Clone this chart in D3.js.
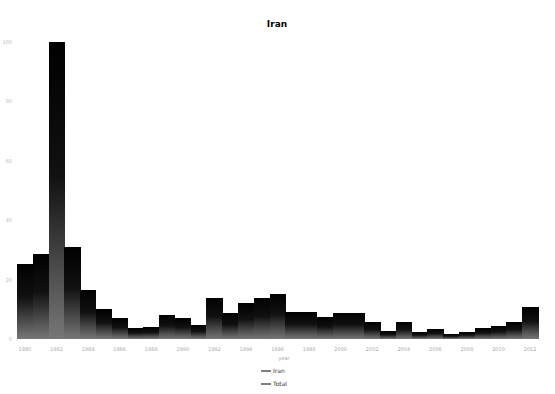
<!DOCTYPE html>
<html>
<head>
<meta charset="utf-8">
<script src="https://cdn.jsdelivr.net/npm/d3@7"></script>
<style>
  body { margin: 0; background: #fff; }
  text { font-family: "DejaVu Sans", sans-serif; }
</style>
</head>
<body>
<div id="chart"></div>
<script>
const ancho = 555
const alto = 394
const margen = { superior: 42, inferior: 55, izquierdo: 17, derecho: 17 }

// datos
const titulo = "Iran"
const years = [1980, 1981, 1982, 1983, 1984, 1985, 1986, 1987, 1988, 1989, 1990,
               1991, 1992, 1993, 1994, 1995, 1996, 1997, 1998, 1999, 2000, 2001,
               2002, 2003, 2004, 2005, 2006, 2007, 2008, 2009, 2010, 2011, 2012]
const valores = [25.3, 28.6, 100, 31.0, 16.5, 10.1, 7.1, 3.7, 4.0, 8.1, 7.1,
                 4.7, 13.8, 8.8, 12.1, 13.8, 15.2, 9.1, 9.1, 7.4, 8.8, 8.8,
                 5.7, 2.7, 5.7, 2.4, 3.4, 1.7, 2.4, 3.7, 4.4, 5.7, 10.8]
const yTicks = [0, 20, 40, 60, 80, 100]
const leyenda = ["Iran", "Total"]

const svg = d3.select("#chart").append("svg")
    .attr("width", ancho)
    .attr("height", alto)

// degradado negro -> gris abajo, como en la imagen
const grad = svg.append("defs").append("linearGradient")
    .attr("id", "barra").attr("x1", 0).attr("y1", 0).attr("x2", 0).attr("y2", 1)
grad.append("stop").attr("offset", "0%").attr("stop-color", "#000")
grad.append("stop").attr("offset", "45%").attr("stop-color", "#111")
grad.append("stop").attr("offset", "100%").attr("stop-color", "#777")

const x = d3.scaleBand()
    .domain(years)
    .range([margen.izquierdo, ancho - margen.derecho])
    .padding(0)
const y = d3.scaleLinear()
    .domain([0, 100])
    .range([alto - margen.inferior, margen.superior])

// titulo
svg.append("text")
    .attr("x", 277).attr("y", 27)
    .attr("text-anchor", "middle")
    .attr("font-size", 9).attr("font-weight", "bold")
    .text(titulo)

// eje y, muy tenue
svg.append("g").selectAll("text")
    .data(yTicks)
    .join("text")
    .attr("x", 12).attr("y", d => y(d) + 2)
    .attr("text-anchor", "end")
    .attr("font-size", 5).attr("fill", "#bbb")
    .text(d => d)

// barras
svg.append("g").selectAll("rect")
    .data(valores)
    .join("rect")
    .attr("x", (d, i) => x(years[i]))
    .attr("width", x.bandwidth() + 0.5)
    .attr("y", d => y(d))
    .attr("height", d => y(0) - y(d))
    .attr("fill", "url(#barra)")
    .attr("shape-rendering", "crispEdges")

// eje x
const ejeX = d3.axisBottom(x)
    .tickValues(years.filter((d, i) => i % 2 === 0))
    .tickSize(0)
    .tickPadding(8)
const gX = svg.append("g")
    .attr("transform", `translate(0,${y(0)})`)
    .call(ejeX)
gX.select(".domain").remove()
gX.selectAll("text").attr("font-size", 5).attr("fill", "#aaa")

svg.append("text")
    .attr("x", 284).attr("y", 360)
    .attr("text-anchor", "middle")
    .attr("font-size", 5).attr("fill", "#999")
    .text("year")

// leyenda
const gl = svg.append("g").attr("transform", "translate(261,371)")
leyenda.forEach((t, i) => {
    gl.append("line")
        .attr("x1", 0).attr("x2", 10)
        .attr("y1", i * 13).attr("y2", i * 13)
        .attr("stroke", "#000").attr("stroke-width", 1)
    gl.append("text")
        .attr("x", 12).attr("y", i * 13 + 2)
        .attr("font-size", 6).attr("fill", "#333")
        .text(t)
})
</script>
</body>
</html>
